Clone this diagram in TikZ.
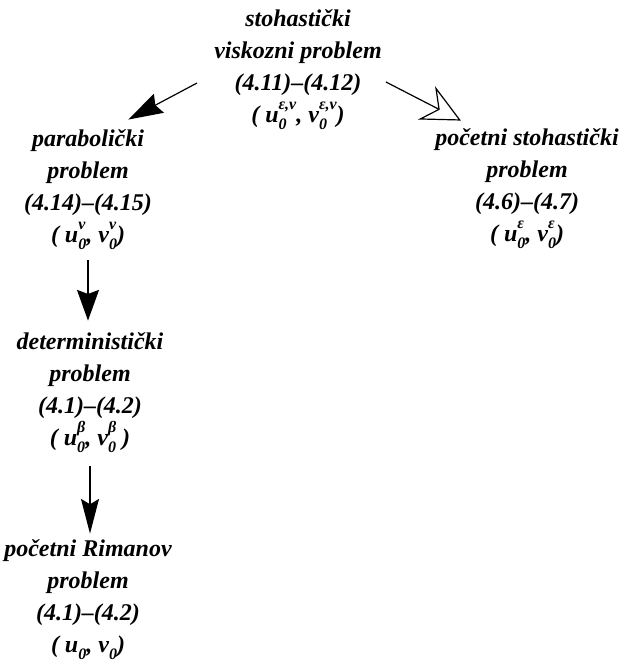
\documentclass[tikz,border=0pt]{standalone}
\usepackage{fontspec}
\setmainfont{Liberation Serif}
\usepackage{tikz}
\usetikzlibrary{arrows.meta}
\newcommand{\lo}[1]{\raisebox{-0.3em}{\fontsize{12}{12}\selectfont #1}}
\newcommand{\hi}[1]{\raisebox{0.55em}{\fontsize{12}{12}\selectfont #1}}
\newcommand{\sx}[2]{\sbox0{\hi{#1}}\sbox2{\lo{#2}}\rlap{\usebox0}\rlap{\usebox2}\kern\ifdim\wd0>\wd2 \wd0\else\wd2\fi\relax}
\tikzset{
  prob/.style={align=center,inner sep=0pt,font=\bfseries\itshape\fontsize{18}{24}\selectfont},
  darr/.style={draw=black,line width=0.9pt},
}
\tikzset{openhead/.style={-{Stealth[open,fill=white,length=29pt,width=28pt,inset=10pt,line width=0.9pt]}}}
\begin{document}
\begin{tikzpicture}[x=0.75pt,y=-0.75pt]
\useasboundingbox (0,0) rectangle (628,666);
\node[prob] (top) at (298,70) {stohastički\\viskozni problem\\(4.11)--(4.12)\\( u\sx{ε,ν}{0}, v\sx{ε,ν}{0})};
\node[prob] (para) at (88,190) {parabolički\\problem\\(4.14)--(4.15)\\( u\sx{ν}{0}, v\sx{ν}{0})};
\node[prob] (rand) at (527,189) {početni stohastički\\problem\\(4.6)--(4.7)\\( u\sx{ε}{0}, v\sx{ε}{0})};
\node[prob] (det) at (90,393) {deterministički\\problem\\(4.1)--(4.2)\\( u\sx{β}{0}, v\sx{β}{0} )};
\node[prob] (riem) at (88,600) {početni Rimanov\\problem\\(4.1)--(4.2)\\( u\lo{0}, v\lo{0})};
\draw[darr,-{Stealth[length=26pt,width=16pt,inset=3pt]}] ([shift={(-17,13)}]top.west) -- ([shift={(-24,-10)}]para.north east);
\draw[darr,openhead] ([shift={(4,12)}]top.east) -- ([shift={(-158,-8)}]rand.north east);
\draw[darr,-{Stealth[length=23pt,width=16.5pt,inset=3pt]}] ([shift={(0,10)}]para.south) -- ([shift={(0,-12)}]para.south |- det.north);
\draw[darr,-{Stealth[length=26pt,width=13.5pt,inset=4pt]}] ([shift={(0,13)}]det.south) -- ([shift={(0,-6)}]det.south |- riem.north);
\end{tikzpicture}
\end{document}
